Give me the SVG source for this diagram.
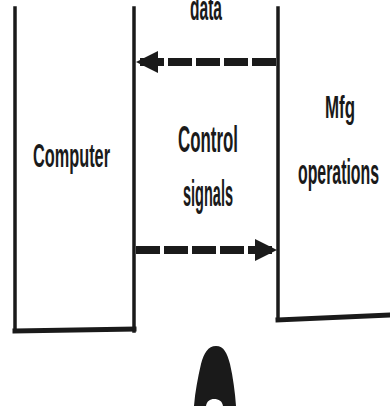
<svg xmlns="http://www.w3.org/2000/svg" width="390" height="406" viewBox="0 0 390 406">
  <style>
    .edge { fill: none; stroke: #1a1a1a; stroke-width: 3.5; stroke-linecap: square; }
    .base { fill: none; stroke: #1a1a1a; stroke-width: 5; stroke-linecap: square; }
    .flow { fill: none; stroke: #1a1a1a; stroke-width: 8; stroke-dasharray: 24 4; }
    .lbl { font-family: "Liberation Sans", Arial, sans-serif; font-weight: bold; font-size: 35px; fill: #1a1a1a; }
  </style>
  <defs>
    <marker id="head" viewBox="0 0 10 10" refX="9" refY="5" markerWidth="2.8" markerHeight="3" orient="auto-start-reverse" markerUnits="strokeWidth">
      <path d="M0,0 L10,5 L0,10 Z" fill="#1a1a1a"/>
    </marker>
  </defs>

  <g id="computer">
    <path class="edge" d="M15,8 L15,331"/>
    <path class="edge" d="M134,8 L134,331"/>
    <path class="base" d="M15,331 L134,329"/>
    <text class="lbl" x="33" y="167" style="font-size:34px" textLength="77" lengthAdjust="spacingAndGlyphs">Computer</text>
  </g>

  <g id="mfg">
    <path class="edge" d="M278,8 L278,320"/>
    <path class="base" d="M278,320 L392,315"/>
    <text class="lbl" x="325" y="118" style="font-size:31px" textLength="30" lengthAdjust="spacingAndGlyphs">Mfg</text>
    <text class="lbl" x="298" y="184" textLength="81" lengthAdjust="spacingAndGlyphs">operations</text>
  </g>

  <g id="connectors">
    <path class="flow" d="M276,62 L138,62" marker-end="url(#head)"/>
    <path class="flow" d="M136,250 L275,250" marker-end="url(#head)"/>
    <text class="lbl" x="190" y="20" textLength="32" lengthAdjust="spacingAndGlyphs">data</text>
    <text class="lbl" x="178" y="152" style="font-size:37px" textLength="60" lengthAdjust="spacingAndGlyphs">Control</text>
    <text class="lbl" x="183" y="206" style="font-size:36px" textLength="50" lengthAdjust="spacingAndGlyphs">signals</text>
  </g>

  <g id="mark">
    <path d="M216,346 C208,346 204,353 201,364 C198,377 195,392 194,406 L206,406 C207,401 210,399 214,399 C219,399 222,401 223,406 L236,406 C235,392 233,377 230,364 C227,353 224,346 216,346 Z" fill="#1a1a1a"/>
  </g>
</svg>
